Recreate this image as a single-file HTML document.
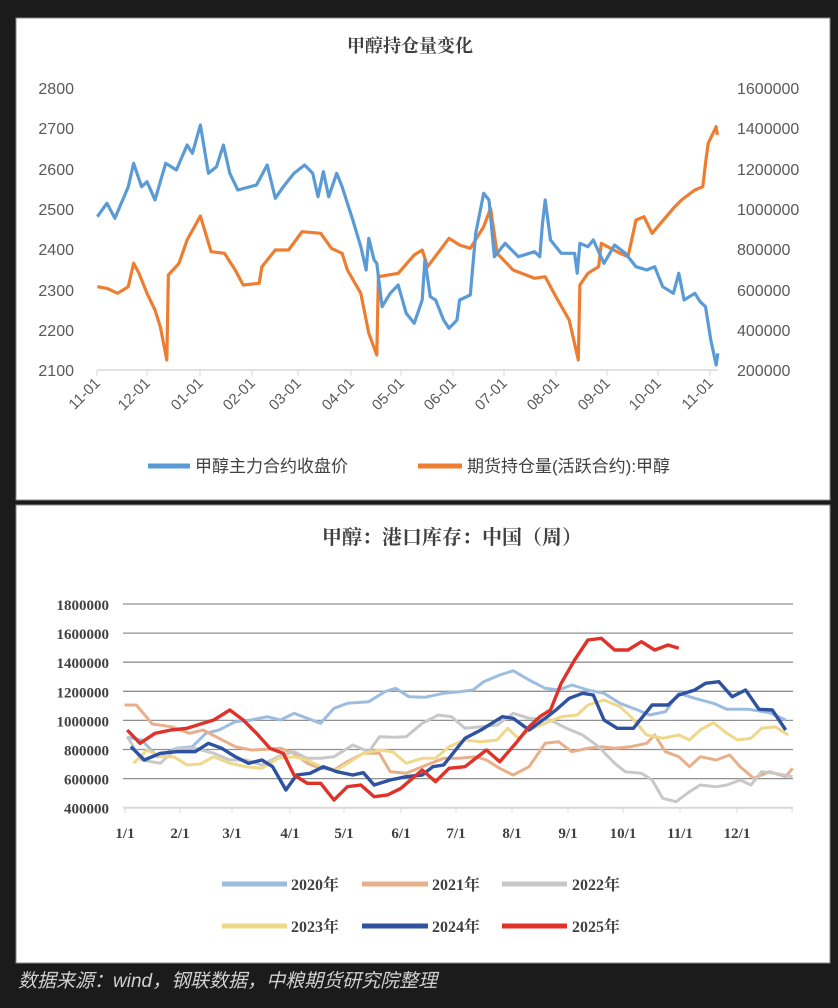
<!DOCTYPE html>
<html><head><meta charset="utf-8"><style>
html,body{margin:0;padding:0;background:#1b1b1b;width:838px;height:1008px;overflow:hidden}
svg{position:absolute;left:0;top:0}
</style></head><body>
<svg id="s" width="838" height="1008" xmlns="http://www.w3.org/2000/svg" font-family="Liberation Sans, Noto Sans CJK SC, sans-serif">
<rect x="16" y="18" width="814" height="482" fill="#fff" stroke="#888"/>
<rect x="16" y="505" width="814" height="458" fill="#fff" stroke="#888"/>
<text x="410" y="52" text-anchor="middle" font-size="18" font-weight="bold" fill="#404040" font-family="Noto Serif CJK SC, serif">甲醇持仓量变化</text>
<g font-size="16" fill="#595959" text-anchor="end">
<text x="74" y="94">2800</text><text x="74" y="134">2700</text><text x="74" y="175">2600</text><text x="74" y="215">2500</text><text x="74" y="255">2400</text><text x="74" y="296">2300</text><text x="74" y="336">2200</text><text x="74" y="376">2100</text>
</g>
<g font-size="16" fill="#595959" text-anchor="start">
<text x="737" y="94">1600000</text><text x="737" y="134">1400000</text><text x="737" y="175">1200000</text><text x="737" y="215">1000000</text><text x="737" y="255">800000</text><text x="737" y="296">600000</text><text x="737" y="336">400000</text><text x="737" y="376">200000</text>
</g>
<line x1="97" y1="370" x2="718" y2="370" stroke="#d9d9d9" stroke-width="1.5"/>
<g id="xt1" font-size="15" fill="#595959"></g>
<g id="c1"></g>
<line x1="148" y1="466" x2="190" y2="466" stroke="#5b9bd5" stroke-width="5"/>
<text x="195" y="472" font-size="17" fill="#404040">甲醇主力合约收盘价</text>
<line x1="418" y1="466" x2="462" y2="466" stroke="#ed7d31" stroke-width="5"/>
<text x="467" y="472" font-size="17" fill="#404040">期货持仓量(活跃合约):甲醇</text>

<text x="452" y="544" text-anchor="middle" font-size="20" font-weight="bold" fill="#404040" font-family="Noto Serif CJK SC, serif">甲醇：港口库存：中国（周）</text>
<g id="grid2"></g>
<g id="c2"></g>
<g font-size="16" font-weight="bold" fill="#404040" font-family="Liberation Serif, Noto Serif CJK SC, serif">
<line x1="222" y1="884" x2="287" y2="884" stroke="#9dbde0" stroke-width="5"/><text x="291" y="890">2020年</text>
<line x1="362" y1="884" x2="428" y2="884" stroke="#e8b08a" stroke-width="5"/><text x="432" y="890">2021年</text>
<line x1="502" y1="884" x2="567" y2="884" stroke="#c8c8c8" stroke-width="5"/><text x="572" y="890">2022年</text>
<line x1="222" y1="926" x2="287" y2="926" stroke="#efd88a" stroke-width="5"/><text x="291" y="932">2023年</text>
<line x1="362" y1="926" x2="428" y2="926" stroke="#2e52a0" stroke-width="5"/><text x="432" y="932">2024年</text>
<line x1="502" y1="926" x2="567" y2="926" stroke="#e03228" stroke-width="5"/><text x="572" y="932">2025年</text>
</g>
<text x="18" y="987" font-size="19" font-style="italic" fill="#d0d0d0" font-family="Liberation Sans, Noto Sans CJK SC, sans-serif">数据来源：wind，钢联数据，中粮期货研究院整理</text>
</svg>
<script>
var NS="http://www.w3.org/2000/svg";
function el(p,t,a,txt){var e=document.createElementNS(NS,t);for(var k in a)e.setAttribute(k,a[k]);if(txt)e.textContent=txt;p.appendChild(e);return e;}
// chart1 x ticks
var xt=document.getElementById('xt1');
var tx=[97,147,200,252,298,351,401,453,504,556,607,658,710],tl=['11-01','12-01','01-01','02-01','03-01','04-01','05-01','06-01','07-01','08-01','09-01','10-01','11-01'];
tx.forEach(function(x,i){el(xt,'line',{x1:x,y1:370,x2:x,y2:376,stroke:'#d9d9d9'});el(xt,'text',{x:x+4,y:384,'text-anchor':'end',transform:'rotate(-45 '+(x+4)+' 384)'},tl[i]);});
function Z1(a){var r=[];for(var i=0;i<a.length;i+=2)r.push((a[i]/1.871).toFixed(1)+','+(a[i+1]/3).toFixed(1));return r.join(' ');}
function Z2(a){var r=[];for(var i=0;i<a.length;i+=2)r.push((a[i]/1.871).toFixed(1)+','+(500+a[i+1]/3).toFixed(1));return r.join(' ');}
var c1=document.getElementById('c1');
var blue=[182,650,200,610,215,655,240,560,250,490,265,560,275,545,290,600,310,490,330,510,350,435,360,460,375,375,390,520,405,500,418,435,430,520,445,570,480,555,500,495,515,595,530,560,550,520,570,495,585,520,595,590,605,515,615,590,630,520,640,560,660,660,675,740,685,810,690,715,700,780,705,790,715,920,730,880,745,855,760,940,775,970,790,900,795,780,805,890,815,900,830,960,840,985,855,960,860,900,880,885,890,700,905,580,915,600,925,770,945,730,970,770,1000,755,1010,770,1015,670,1020,600,1030,720,1050,760,1075,760,1080,820,1085,730,1100,740,1110,720,1130,790,1150,735,1170,760,1190,800,1210,810,1225,800,1240,860,1260,880,1270,820,1280,900,1300,880,1310,905,1320,920,1330,1020,1340,1095,1343,1060];
var orng=[182,860,200,865,220,880,240,860,250,790,260,820,275,880,290,930,300,980,312,1080,315,825,335,790,350,720,375,648,395,755,420,760,440,810,455,855,485,850,490,800,515,750,540,750,565,695,600,700,620,745,640,760,650,810,675,880,690,1000,705,1065,708,830,745,820,775,765,790,750,800,800,840,715,860,735,880,745,905,680,918,625,930,760,960,810,1000,835,1020,830,1040,890,1065,960,1082,1080,1085,855,1100,820,1120,800,1125,730,1160,760,1175,770,1190,660,1205,650,1220,700,1260,625,1275,600,1300,570,1315,560,1320,490,1325,430,1340,380,1342,405];
el(c1,'polyline',{points:Z1(orng),fill:'none',stroke:'#ed7d31','stroke-width':3.2,'stroke-linejoin':'round'});
el(c1,'polyline',{points:Z1(blue),fill:'none',stroke:'#5b9bd5','stroke-width':3.2,'stroke-linejoin':'round'});
// chart2 grid
var g=document.getElementById('grid2');
var labs=['1800000','1600000','1400000','1200000','1000000','800000','600000','400000'];
for(var i=0;i<8;i++){var y=604+i*29.1;el(g,'line',{x1:123,y1:y,x2:793,y2:y,stroke:i==7?'#d9d9d9':'#909090','stroke-width':i==7?2:1.3});el(g,'text',{x:109,y:y+6,'text-anchor':'end','font-size':15,'font-weight':'bold',fill:'#404040','font-family':'Liberation Serif, serif'},labs[i]);}
var x2=[125,180,232,290,344,401,456,512,568,623,680,737,792],xl=['1/1','2/1','3/1','4/1','5/1','6/1','7/1','8/1','9/1','10/1','11/1','12/1',''];
x2.forEach(function(x,i){el(g,'line',{x1:x,y1:807,x2:x,y2:813,stroke:'#d9d9d9'});if(xl[i])el(g,'text',{x:x,y:838,'text-anchor':'middle','font-size':15,'font-weight':'bold',fill:'#404040','font-family':'Liberation Serif, serif'},xl[i]);});
var c2=document.getElementById('c2');
var S={
'#9dbde0':[238,712,265,720,295,770,330,745,360,740,385,700,410,690,440,665,470,660,500,650,525,660,550,640,575,655,600,670,625,625,650,610,690,605,720,575,740,565,765,590,795,592,830,580,860,575,885,570,905,545,935,525,960,512,990,540,1020,565,1045,570,1070,555,1100,570,1130,580,1160,610,1190,628,1215,645,1245,635,1270,580,1300,595,1335,610,1360,628,1400,628,1440,638,1470,660],
'#e8b08a':[233,615,255,615,285,672,320,680,355,700,380,690,410,715,440,740,470,750,500,748,525,745,550,760,575,790,600,805,625,810,650,785,680,760,710,760,730,815,760,820,790,800,830,775,860,775,890,770,910,780,935,805,960,825,990,800,1020,730,1045,725,1070,755,1100,745,1125,740,1150,745,1180,740,1210,730,1225,705,1245,755,1270,770,1290,800,1310,770,1340,780,1365,765,1385,800,1410,835,1440,815,1470,830,1483,805],
'#c8c8c8':[238,710,265,780,300,790,330,745,365,745,400,760,430,780,460,780,490,795,520,770,550,755,575,775,600,775,625,770,660,735,690,755,710,710,735,712,760,710,790,670,820,645,845,650,870,685,900,680,930,675,960,640,990,655,1030,660,1060,685,1090,705,1120,740,1150,790,1170,815,1200,820,1220,840,1240,895,1265,905,1290,875,1310,855,1340,860,1360,855,1385,840,1405,855,1425,815,1450,820,1483,830],
'#efd88a':[250,790,275,750,300,770,325,770,350,795,375,792,400,770,430,790,460,800,490,805,520,775,550,770,575,780,600,800,630,810,655,785,680,760,710,750,735,755,760,790,790,775,815,775,840,740,870,720,900,725,930,720,950,685,970,715,990,690,1020,670,1050,650,1080,645,1100,615,1130,600,1160,620,1180,650,1210,705,1240,715,1270,705,1290,720,1310,690,1335,668,1360,700,1380,720,1405,715,1425,685,1450,680,1475,705],
'#2e52a0':[245,740,270,780,300,760,330,755,365,755,390,730,415,745,440,770,465,790,490,780,510,800,535,870,555,825,580,820,605,800,630,815,660,825,680,818,700,855,730,840,760,830,790,825,810,800,830,795,870,715,900,690,940,650,960,655,990,690,1020,655,1040,630,1065,595,1090,580,1110,585,1130,660,1155,685,1185,685,1220,615,1250,615,1270,585,1300,570,1320,550,1345,545,1370,590,1395,570,1420,628,1445,630,1470,690],
'#e03228':[238,690,262,730,290,700,320,690,350,685,380,670,400,660,430,630,455,660,480,700,505,745,530,760,550,825,575,850,600,850,625,900,650,860,675,855,700,890,725,885,750,865,790,810,815,845,840,805,870,800,910,750,935,785,965,730,990,680,1010,650,1030,630,1050,550,1075,480,1100,420,1125,415,1150,450,1175,450,1200,425,1225,450,1250,435,1270,445]};
for(var k in S)el(c2,'polyline',{points:Z2(S[k]),fill:'none',stroke:k,'stroke-width':(k=='#2e52a0'||k=='#e03228')?3.4:3,'stroke-linejoin':'round'});
</script>
</body></html>
